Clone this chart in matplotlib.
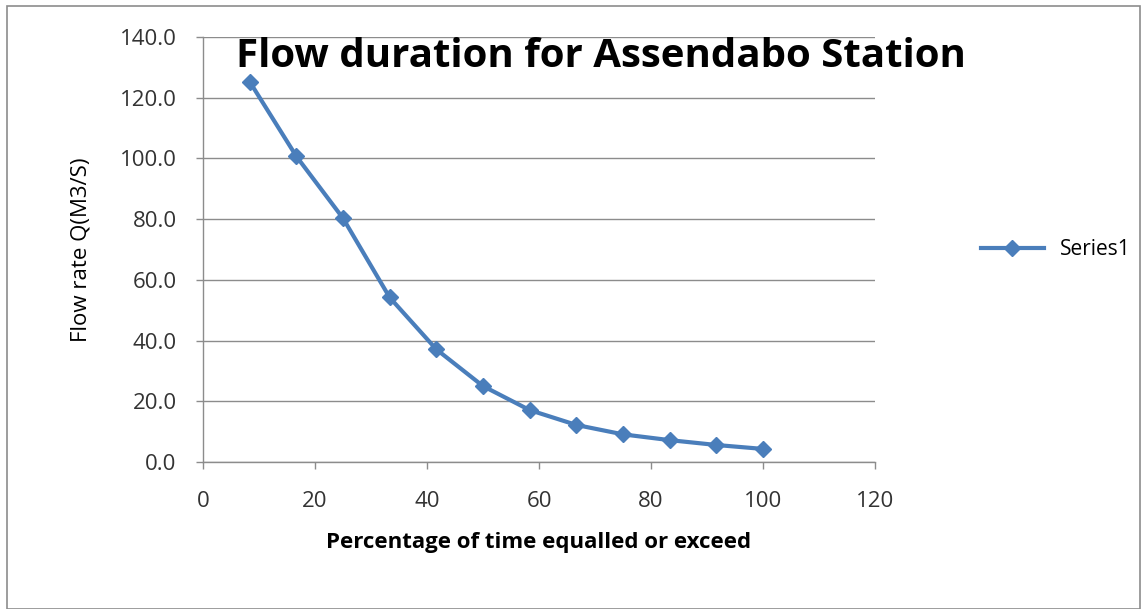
import matplotlib
matplotlib.use("Agg")
import matplotlib.pyplot as plt
from matplotlib.patches import Rectangle

# flow duration data (percent of time vs flow rate)
percent = [8.33, 16.67, 25.0, 33.33, 41.67, 50.0, 58.33, 66.67, 75.0, 83.33, 91.67, 100.0]
flow = [125.3, 100.7, 80.3, 54.2, 37.1, 25.0, 17.1, 12.2, 9.1, 7.2, 5.6, 4.3]
x_ticks = [0, 20, 40, 60, 80, 100, 120]
y_ticks = [0, 20, 40, 60, 80, 100, 120, 140]

plt.rcParams['font.family'] = ['Open Sans', 'DejaVu Sans']

fig = plt.figure(figsize=(11.45, 6.09), dpi=100)
fig.patches.append(Rectangle((0.006, 0.0), 0.99, 0.99, transform=fig.transFigure,
                             fill=False, edgecolor='#8c8c8c', linewidth=1.2))
ax = fig.add_axes([0.1773, 0.2414, 0.5869, 0.6978])

line_color = '#4a7ebb'
ax.plot(percent, flow, color=line_color, linewidth=3, marker='D', markersize=8,
        label='Series1')

ax.set_xlim(0, 120)
ax.set_ylim(0, 140)
ax.set_xticks(x_ticks)
ax.set_yticks(y_ticks)
ax.set_yticklabels(['{:.1f}'.format(v) for v in y_ticks])
ax.grid(axis='y', color='#8c8c8c', linewidth=1)
ax.set_axisbelow(True)
for s in ['top', 'right']:
    ax.spines[s].set_visible(False)
for s in ['left', 'bottom']:
    ax.spines[s].set_color('#8c8c8c')
    ax.spines[s].set_linewidth(1)
ax.tick_params(axis='both', colors='#8c8c8c', labelcolor='#333333', labelsize=16,
               length=5, width=1)
ax.tick_params(axis='x', pad=16)
ax.tick_params(axis='y', pad=14)

ax.set_xlabel('Percentage of time equalled or exceed', fontsize=16, fontweight='bold',
              labelpad=14)
ax.set_ylabel('Flow rate Q(M3/S)', fontsize=16, labelpad=20)
fig.text(0.206, 0.908, 'Flow duration for Assendabo Station', fontsize=29,
         fontweight='bold', va='center', ha='left')

ax.legend(loc='center left', bbox_to_anchor=(1.13, 0.5), frameon=False, fontsize=15,
          handlelength=3)

fig.savefig('out.png', dpi=100)
